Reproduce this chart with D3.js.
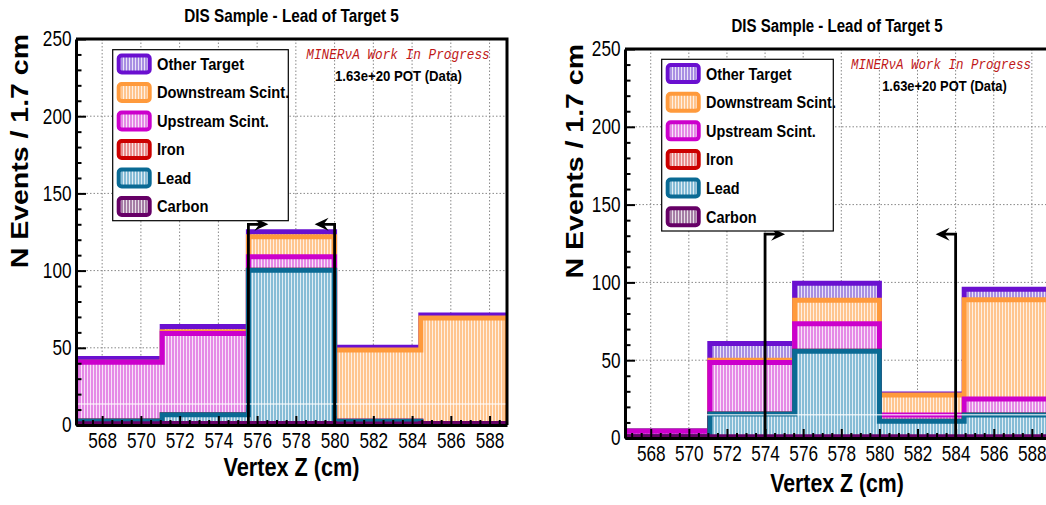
<!DOCTYPE html>
<html>
<head>
<meta charset="utf-8">
<script src="https://cdn.jsdelivr.net/npm/d3@7"></script>
<style>
  html, body { margin: 0; padding: 0; background: #fff; }
  svg { display: block; }
</style>
</head>
<body>
<svg id="chart" width="1046" height="505"></svg>
<script>
// ---- data -------------------------------------------------------------
// Bin edges along the vertex Z coordinate (cm)
const binEdges = [566.65, 571.1, 575.55, 580.0, 584.45, 588.9];

// Stack order, bottom to top
const seriesNames = ["Carbon", "Lead", "Iron", "Upstream Scint.", "Downstream Scint.", "Other Target"];

// Left panel: events per bin for each component
const leftCarbon     = [0.8, 1.0, 1.0, 0.6, 1.0];
const leftLead       = [1.8, 5.6, 99.2, 1.8, 0.0];
const leftIron       = [0.0, 0.0, 0.0, 0.0, 0.0];
const leftUpstream   = [38.1, 52.7, 8.8, 0.0, 0.0];
const leftDownstream = [0.0, 1.1, 13.0, 46.2, 68.3];
const leftOther      = [2.3, 3.4, 3.1, 1.7, 1.9];

// Right panel: events per bin for each component
const rightCarbon     = [0.8, 0.8, 0.8, 0.8, 0.8];
const rightLead       = [0.0, 14.6, 54.9, 9.9, 14.0];
const rightIron       = [0.0, 0.0, 0.0, 0.0, 0.0];
const rightUpstream   = [3.6, 33.2, 17.7, 4.1, 10.3];
const rightDownstream = [0.0, 1.3, 15.2, 12.8, 63.7];
const rightOther      = [0.3, 10.8, 10.8, 0.7, 6.8];

// Vertex-Z cut positions (cm) and the height of the cut markers (events)
const leftCuts = [575.55, 580.0];
const leftCutHeight = 130;
const rightCuts = [574, 584];
const rightCutHeight = 131;

// Faint horizontal guide drawn across the stack
const leftGuideLevel = 13.6;
const rightGuideLevel = 15;

// Axes
const xMajorTicks = [568, 570, 572, 574, 576, 578, 580, 582, 584, 586, 588];
const yMajorTicks = [0, 50, 100, 150, 200, 250];
const yMax = 250;

// Text
const titleText = "DIS Sample - Lead of Target 5";
const xTitleText = "Vertex Z (cm)";
const yTitleText = "N Events / 1.7 cm";
const tagText = "MINERνA Work In Progress";
const potText = "1.63e+20 POT (Data)";

// ---- styles -----------------------------------------------------------
const seriesStyle = {
  "Carbon":            { line: "#660066", fill: "#a67ea6" },
  "Lead":              { line: "#0a6a94", fill: "#86bcd6" },
  "Iron":              { line: "#cc0000", fill: "#e89090" },
  "Upstream Scint.":   { line: "#cc00cc", fill: "#e58ae6" },
  "Downstream Scint.": { line: "#ff9a3c", fill: "#ffc58f" },
  "Other Target":      { line: "#6a10d0", fill: "#a98fe3" }
};
const SANS = "'Liberation Sans', Arial, Helvetica, sans-serif";
const MONO = "'Liberation Mono', 'Courier New', monospace";

const panels = [
  {
    id: "L",
    series: [leftCarbon, leftLead, leftIron, leftUpstream, leftDownstream, leftOther],
    cuts: leftCuts, cutHeight: leftCutHeight, guide: leftGuideLevel,
    box: { x0: 76, x1: 507, y0: 39, y1: 425 },
    sx: 0.85,
    titleY: 21.5,
    yTitle: { x: 28, y: 34 },
    xTitleY: 475.5,
    legend: { x: 112.7, y: 49.7, w: 175.6, h: 171 },
    tag: { x: 398, y: 59 },
    pot: { x: 398.5, y: 80.5 }
  },
  {
    id: "R",
    series: [rightCarbon, rightLead, rightIron, rightUpstream, rightDownstream, rightOther],
    cuts: rightCuts, cutHeight: rightCutHeight, guide: rightGuideLevel,
    box: { x0: 625, x1: 1049, y0: 49, y1: 438 },
    sx: 0.835,
    titleY: 32,
    yTitle: { x: 583, y: 44 },
    xTitleY: 492,
    legend: { x: 661.7, y: 59.3, w: 171.6, h: 171.7 },
    tag: { x: 941, y: 68.5 },
    pot: { x: 944.5, y: 90.5 }
  }
];

// ---- drawing ----------------------------------------------------------
const svg = d3.select("#chart");
svg.append("rect").attr("width", 1046).attr("height", 505).attr("fill", "#fff");

const defs = svg.append("defs");
// vertical-stripe fill for every component
seriesNames.forEach((name, i) => {
  const p = defs.append("pattern")
    .attr("id", "pat" + i)
    .attr("patternUnits", "userSpaceOnUse")
    .attr("width", 3).attr("height", 10);
  p.append("rect").attr("width", 3).attr("height", 10).attr("fill", seriesStyle[name].fill);
  p.append("line").attr("x1", 0.5).attr("x2", 0.5).attr("y1", 0).attr("y2", 10)
    .attr("stroke", "#fff").attr("stroke-width", 1).attr("stroke-opacity", 0.75);
});

// condensed text helper
function ctext(g, x, y, str, o) {
  return g.append("text")
    .attr("transform", `translate(${x},${y}) scale(${o.sx},1)` + (o.rotate ? ` rotate(${o.rotate})` : ""))
    .attr("text-anchor", o.anchor || "middle")
    .attr("font-family", o.family || SANS)
    .attr("font-size", o.size)
    .attr("font-weight", o.weight || "normal")
    .attr("font-style", o.style || "normal")
    .attr("fill", o.fill || "#000")
    .text(str);
}

panels.forEach(P => {
  const g = svg.append("g");
  const b = P.box;
  const x = d3.scaleLinear().domain([binEdges[0], binEdges[binEdges.length - 1]]).range([b.x0, b.x1]);
  const y = d3.scaleLinear().domain([0, yMax]).range([b.y1, b.y0]);

  // grid
  const grid = g.append("g").attr("stroke", "#888").attr("stroke-width", 1)
    .attr("stroke-dasharray", "1.5,2");
  xMajorTicks.forEach(v => grid.append("line")
    .attr("x1", x(v)).attr("x2", x(v)).attr("y1", b.y0).attr("y2", b.y1));
  yMajorTicks.filter(v => v > 0 && v < yMax).forEach(v => grid.append("line")
    .attr("x1", b.x0).attr("x2", b.x1).attr("y1", y(v)).attr("y2", y(v)));

  // stacked histogram
  const rows = binEdges.slice(0, -1).map((e, i) => {
    const r = {};
    seriesNames.forEach((n, k) => r[n] = P.series[k][i]);
    return r;
  });
  const stacked = d3.stack().keys(seriesNames)(rows);

  defs.append("clipPath").attr("id", "clip" + P.id)
    .append("rect").attr("x", b.x0).attr("y", b.y0)
    .attr("width", b.x1 - b.x0).attr("height", b.y1 - b.y0);
  const hg = g.append("g").attr("clip-path", `url(#clip${P.id})`);

  const line = d3.line().x(d => x(d[0])).y(d => y(d[1]));
  // draw from the full sum down to the bottom component
  for (let k = stacked.length - 1; k >= 0; k--) {
    const layer = stacked[k];
    const pts = [[binEdges[0], 0]];
    layer.forEach((d, i) => { pts.push([binEdges[i], d[1]]); pts.push([binEdges[i + 1], d[1]]); });
    pts.push([binEdges[binEdges.length - 1], 0]);
    hg.append("path")
      .attr("d", line(pts) + "Z")
      .attr("fill", `url(#pat${k})`)
      .attr("stroke", seriesStyle[seriesNames[k]].line)
      .attr("stroke-width", 5)
      .attr("stroke-linejoin", "miter");
  }
  hg.append("line")
    .attr("x1", b.x0).attr("x2", b.x1).attr("y1", y(P.guide)).attr("y2", y(P.guide))
    .attr("stroke", "#fff").attr("stroke-width", 1.5).attr("stroke-opacity", 0.7);

  // cut markers
  P.cuts.forEach((c, i) => {
    const dir = i === 0 ? 1 : -1;
    const xc = x(c), yt = y(P.cutHeight), tip = xc + dir * 20;
    g.append("path")
      .attr("d", `M${xc},${y(0)}V${yt}H${tip - dir * 6}`)
      .attr("fill", "none").attr("stroke", "#000").attr("stroke-width", 2.8);
    g.append("path")
      .attr("d", `M${tip},${yt}L${tip - dir * 14},${yt - 6.5}L${tip - dir * 9},${yt}L${tip - dir * 14},${yt + 6.5}Z`)
      .attr("fill", "#000");
  });

  // axes
  const tickSx = 0.8;
  const xMinor = d3.range(567, 589, 0.5).filter(v => !xMajorTicks.includes(v));
  const yMinor = d3.range(0, yMax + 1, 10).filter(v => !yMajorTicks.includes(v));

  const ax = g.append("g").attr("transform", `translate(0,${b.y1})`)
    .call(d3.axisBottom(x).tickValues(xMajorTicks).tickSize(-9).tickSizeOuter(0).tickPadding(7.5)
      .tickFormat(d3.format("d")));
  g.append("g").attr("transform", `translate(0,${b.y1})`)
    .call(d3.axisBottom(x).tickValues(xMinor).tickSize(-5).tickSizeOuter(0).tickFormat(""))
    .select(".domain").remove();
  ax.selectAll("text")
    .attr("font-family", SANS).attr("font-size", 21.5).attr("fill", "#000")
    .attr("transform", `scale(${tickSx},1)`);

  const ay = g.append("g").attr("transform", `translate(${b.x0},0)`)
    .call(d3.axisLeft(y).tickValues(yMajorTicks).tickSize(-10).tickSizeOuter(0)
      .tickPadding(4.5 / tickSx).tickFormat(d3.format("d")));
  g.append("g").attr("transform", `translate(${b.x0},0)`)
    .call(d3.axisLeft(y).tickValues(yMinor).tickSize(-5.5).tickSizeOuter(0).tickFormat(""))
    .select(".domain").remove();
  ay.selectAll("text")
    .attr("font-family", SANS).attr("font-size", 21.5).attr("fill", "#000")
    .attr("transform", `scale(${tickSx},1)`);

  g.selectAll(".tick line").attr("stroke", "#000").attr("stroke-width", 2);
  g.selectAll(".domain").attr("stroke", "#000").attr("stroke-width", 3);

  // frame
  g.append("path")
    .attr("d", `M${b.x0},${b.y0}H${b.x1}V${b.y1}`)
    .attr("fill", "none").attr("stroke", "#000").attr("stroke-width", 3);

  // titles
  const cx = (b.x0 + b.x1) / 2;
  ctext(g, cx, P.titleY, titleText, { sx: P.sx, size: 18, weight: "bold" });
  ctext(g, cx, P.xTitleY, xTitleText, { sx: P.sx * 1.02, size: 25, weight: "bold" });
  ctext(g, P.yTitle.x, P.yTitle.y, yTitleText,
    { sx: P.sx, size: 28.5, weight: "bold", rotate: -90, anchor: "end" });

  ctext(g, P.tag.x, P.tag.y, tagText,
    { sx: P.sx, size: 15, family: MONO, style: "italic", fill: "#c01818" });
  ctext(g, P.pot.x, P.pot.y, potText, { sx: P.sx, size: 15.5, weight: "bold" });

  // legend
  const L = P.legend;
  const lg = g.append("g");
  lg.append("rect").attr("x", L.x).attr("y", L.y).attr("width", L.w).attr("height", L.h)
    .attr("fill", "#fff").attr("stroke", "#000").attr("stroke-width", 1.2);
  const order = seriesNames.slice().reverse();
  const rowH = L.h / order.length;
  order.forEach((name, i) => {
    const k = seriesNames.indexOf(name);
    const cy = L.y + (i + 0.5) * rowH;
    lg.append("rect")
      .attr("x", L.x + 6).attr("y", cy - 8.5).attr("width", 31).attr("height", 17)
      .attr("rx", 3).attr("ry", 3)
      .attr("fill", `url(#pat${k})`)
      .attr("stroke", seriesStyle[name].line).attr("stroke-width", 4);
    ctext(lg, L.x + 44.3, cy + 6, name, { sx: P.sx, size: 17.3, weight: "bold", anchor: "start" });
  });
});
</script>
</body>
</html>
